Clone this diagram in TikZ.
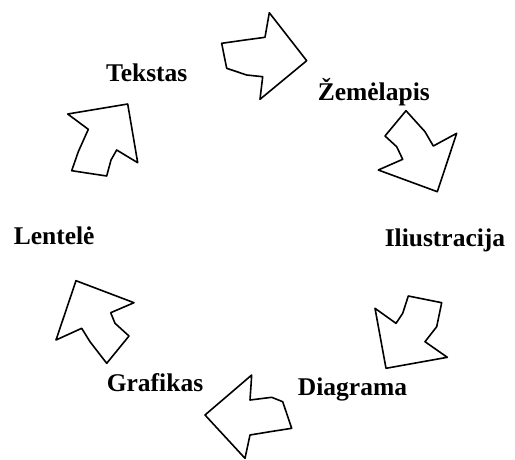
\documentclass[tikz,border=0pt]{standalone}
\usepackage{fontspec}
\setmainfont{Liberation Serif}
\usepackage{tikz}
\tikzset{blockarrow/.style={draw=black, fill=white, line width=1.6pt, line join=round}}
\tikzset{word/.style={font=\fontsize{25.5}{30}\selectfont\bfseries, anchor=base, inner sep=0pt}}

\begin{document}
\begin{tikzpicture}[x=1pt,y=-1pt]
            \useasboundingbox (0,0) rectangle (515,459);
            \node [word] (tekstas) at (146.7,81.7) {Tekstas};
            \node [word] (zemelapis) at (373.8,100) {Žemėlapis};
            \node [word] (iliustracija) at (445,246.7) {Iliustracija};
            \node [word] (lentele) at (54.2,244) {Lentelė};
            \node [word] (grafikas) at (155,391.7) {Grafikas};
            \node [word] (diagrama) at (352.5,395) {Diagrama};
            % top
            \draw [blockarrow] (221.7,43.3)--(245,40)--(265,37.3)--(269.3,12.7)--(306.7,60.7)--(260,99.3)--(262.7,76.7)--(246.7,75)--(226.7,68.3)--(224,55)--cycle;
            % right upper
            \draw [blockarrow] (406,110.7)--(425,131.7)--(433.3,146)--(456.7,133.3)--(437.3,191.7)--(378.3,170)--(402.7,159.3)--(396.7,146.7)--(385,136)--cycle;
            % right lower
            \draw [blockarrow] (408.3,296)--(441.7,302.7)--(436.7,326.7)--(425,341.7)--(447.3,357.3)--(386,368.3)--(375,308.3)--(396,323.3)--(402.7,313.3)--cycle;
            % bottom
            \draw [blockarrow] (251.7,375)--(250,400)--(271.7,397.3)--(282.7,401.7)--(291.7,428.3)--(270,431.7)--(250,435)--(245,458.3)--(205,415)--cycle;
            % left lower
            \draw [blockarrow] (76,280.7)--(134,302.7)--(110.7,312.7)--(115,323.3)--(129,336)--(106.7,363.3)--(90,341.7)--(81.7,328.3)--(56,340)--cycle;
            % left upper
            \draw [blockarrow] (67.7,114)--(127.7,104)--(137.7,162.7)--(116.7,150)--(111,160)--(106.7,176)--(71.7,170.7)--(78.3,151.7)--(88.3,129.3)--cycle;
\end{tikzpicture}
\end{document}
